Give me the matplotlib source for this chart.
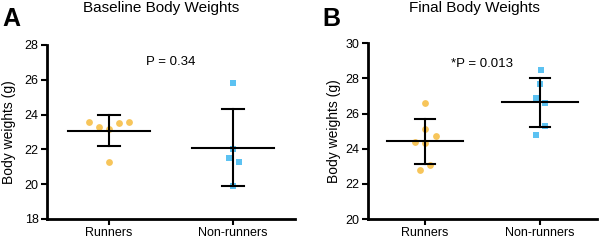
import numpy as np
import matplotlib
matplotlib.use("Agg")
import matplotlib.pyplot as plt

plt.rcParams['font.family'] = ['Liberation Sans', 'DejaVu Sans']

categories = ["Runners", "Non-runners"]

# Panel A: baseline body weights (g)
baseline_runners = [23.6, 23.3, 23.2, 23.5, 23.6, 21.3]
baseline_nonrunners = [25.8, 22.0, 21.5, 21.3, 19.9]
# Panel B: final body weights (g)
final_runners = [26.6, 25.1, 24.4, 24.7, 24.3, 22.8, 23.1]
final_nonrunners = [28.5, 27.7, 26.9, 26.6, 25.3, 24.8]

titles = ["Baseline Body Weights", "Final Body Weights"]
panel_letters = ["A", "B"]
p_labels = ["P = 0.34", "*P = 0.013"]
yticks_A = [18, 20, 22, 24, 26, 28]
yticks_B = [20, 22, 24, 26, 28, 30]

# horizontal jitter of the dots (layout only)
jit_A_r = [-0.16, -0.08, 0.0, 0.08, 0.16, 0.0]
jit_A_n = [0.0, 0.0, -0.035, 0.045, 0.0]
jit_B_r = [0.0, 0.0, -0.087, 0.096, 0.0, -0.043, 0.043]
jit_B_n = [0.01, 0.0, -0.035, 0.05, 0.05, -0.035]

ORANGE = "#F7C55A"
BLUE = "#5CC2F2"

fig = plt.figure(figsize=(6, 2.4), dpi=100)
axA = fig.add_axes([0.078, 0.0875, 0.414, 0.725])
axB = fig.add_axes([0.613, 0.0875, 0.382, 0.732])


def draw(ax, runners, nonrunners, jr, jn, yticks, ptext, ptext_y, ylab_x):
    groups = [(runners, jr, ORANGE, 'o'), (nonrunners, jn, BLUE, 's')]
    for i, (vals, jit, col, mk) in enumerate(groups):
        vals = np.asarray(vals)
        ax.scatter(i + np.asarray(jit), vals, s=24, color=col, marker=mk,
                   linewidths=0, zorder=2)
        m = vals.mean()
        sd = vals.std(ddof=1)
        ax.plot([i - 0.33, i + 0.33], [m, m], color='black', lw=1.5, zorder=3)
        ax.plot([i, i], [m - sd, m + sd], color='black', lw=1.5, zorder=3)
        for yy in (m - sd, m + sd):
            ax.plot([i - 0.087, i + 0.087], [yy, yy], color='black', lw=1.5, zorder=3)
    ax.set_xlim(-0.5, 1.5)
    ax.set_ylim(yticks[0], yticks[-1])
    ax.set_yticks(yticks)
    ax.set_xticks([0, 1])
    ax.set_xticklabels(categories, fontsize=9)
    ax.tick_params(axis='y', labelsize=9, width=1.5, length=4, pad=2)
    ax.tick_params(axis='x', width=1.5, length=4, pad=2)
    for s in ['top', 'right']:
        ax.spines[s].set_visible(False)
    for s in ['left', 'bottom']:
        ax.spines[s].set_linewidth(2)
    ax.set_ylabel("Body weights (g)", fontsize=10)
    ax.yaxis.set_label_coords(ylab_x, 0.5)
    ax.text(0.5, ptext_y, ptext, ha='center', va='center', fontsize=9.5)
    return ax


draw(axA, baseline_runners, baseline_nonrunners, jit_A_r, jit_A_n,
     yticks_A, p_labels[0], 27.0, -0.126)
draw(axB, final_runners, final_nonrunners, jit_B_r, jit_B_n,
     yticks_B, p_labels[1], 28.8, -0.118)

fig.text(161 / 600, 1 - 8 / 240, titles[0], ha='center', va='center', fontsize=11)
fig.text(474 / 600, 1 - 8 / 240, titles[1], ha='center', va='center', fontsize=11)
fig.text(2 / 600, 1 - 19 / 240, panel_letters[0], ha='left', va='center',
         fontsize=18, fontweight='bold')
fig.text(322 / 600, 1 - 19 / 240, panel_letters[1], ha='left', va='center',
         fontsize=18, fontweight='bold')

fig.savefig("out.png", dpi=100)
